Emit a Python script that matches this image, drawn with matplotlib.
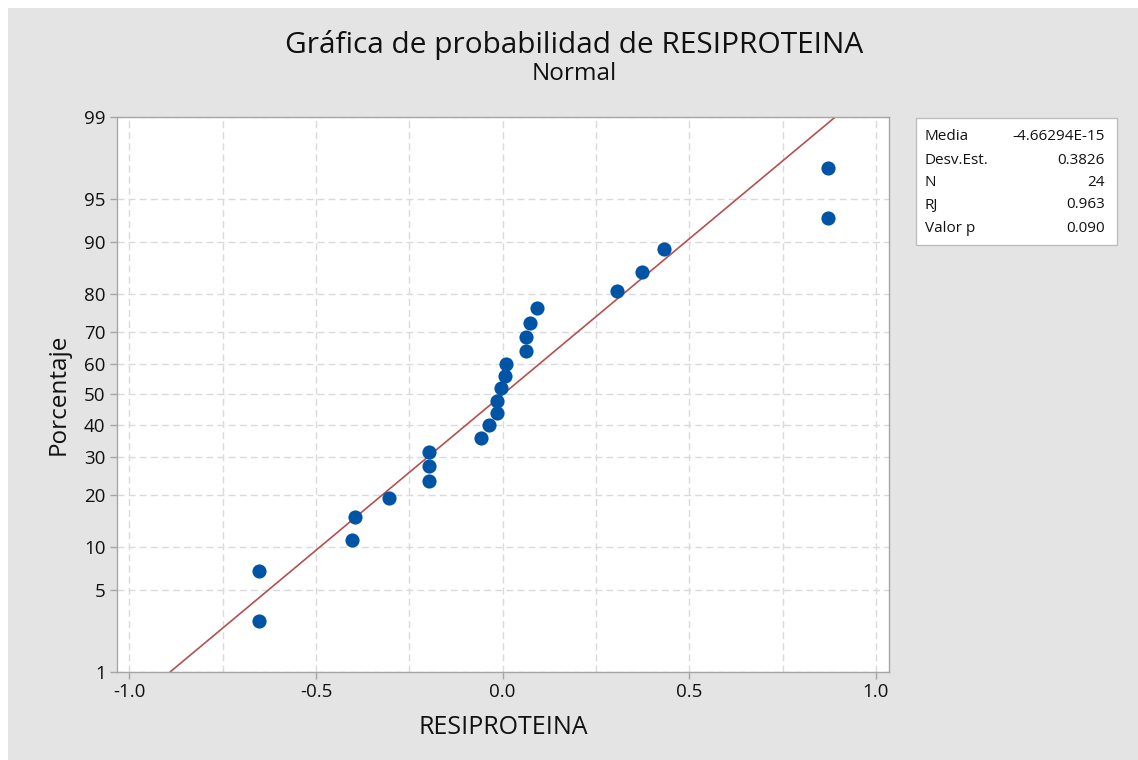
from statistics import NormalDist

import numpy as np
import matplotlib
matplotlib.use("Agg")
import matplotlib.pyplot as plt
from matplotlib.patches import Rectangle
from matplotlib.ticker import FixedLocator

plt.rcParams['font.family'] = ['Open Sans', 'DejaVu Sans']

# datos
resiproteina = [-0.654, -0.654, -0.404, -0.395, -0.304, -0.197, -0.197, -0.197,
                -0.058, -0.036, -0.015, -0.015, -0.005, 0.005, 0.008, 0.063,
                0.063, 0.073, 0.092, 0.307, 0.372, 0.433, 0.872, 0.872]
porcentaje = [2.87, 6.97, 11.07, 15.16, 19.26, 23.36, 27.46, 31.56,
              35.66, 39.75, 43.85, 47.95, 52.05, 56.15, 60.25, 64.34,
              68.44, 72.54, 76.64, 80.74, 84.84, 88.93, 93.03, 97.13]
media = -4.66294e-15
desv = 0.3826

stat_names = ['Media', 'Desv.Est.', 'N', 'RJ', 'Valor p']
stat_vals = ['-4.66294E-15', '0.3826', '24', '0.963', '0.090']

y_ticks = [1, 5, 10, 20, 30, 40, 50, 60, 70, 80, 90, 95, 99]
x_ticks = [-1.0, -0.5, 0.0, 0.5, 1.0]
x_minor = [-0.75, -0.25, 0.25, 0.75]

nd = NormalDist()
_ppf = np.vectorize(lambda p: nd.inv_cdf(min(max(p / 100.0, 1e-9), 1 - 1e-9)), otypes=[float])
_cdf = np.vectorize(lambda z: nd.cdf(z) * 100.0, otypes=[float])


def fwd(p):
    return _ppf(np.asarray(p, dtype=float))


def inv(z):
    return _cdf(np.asarray(z, dtype=float))


W, H = 1138, 760
txt = '#111111'
fig = plt.figure(figsize=(W / 100, H / 100), dpi=100, facecolor='white')
fig.patches.append(Rectangle((8 / W, 0), 1, 1 - 8 / H, transform=fig.transFigure,
                             facecolor='#e4e4e4', edgecolor='none', zorder=-10))

ax = fig.add_axes([116.7 / W, 1 - 671.7 / H, (889 - 116.7) / W, (671.7 - 117.3) / H])
ax.set_facecolor('white')
ax.set_yscale('function', functions=(fwd, inv))
ax.set_ylim(1, 99)
ax.set_xlim(-1.034, 1.035)

gris = '#a6a6a6'
for s in ax.spines.values():
    s.set_color(gris)
    s.set_linewidth(1.0)

ax.yaxis.set_major_locator(FixedLocator(y_ticks))
ax.set_yticklabels([str(t) for t in y_ticks])
ax.xaxis.set_major_locator(FixedLocator(x_ticks))
ax.xaxis.set_minor_locator(FixedLocator(x_minor))
ax.yaxis.set_minor_locator(FixedLocator([]))
ax.set_xticklabels(['-1.0', '-0.5', '0.0', '0.5', '1.0'])
ax.tick_params(axis='both', which='major', direction='out', length=5, width=1,
               color=gris, labelsize=13.5, labelcolor=txt, pad=3)
ax.tick_params(axis='x', which='minor', length=0)

ax.grid(True, which='both', axis='x', color='#dadada', linestyle=(0, (5, 3)), linewidth=1)
ax.grid(True, which='major', axis='y', color='#dadada', linestyle=(0, (5, 3)), linewidth=1)
ax.set_axisbelow(True)

# recta ajustada
p_lin = np.array([1.0, 99.0])
x_lin = media + desv * fwd(p_lin)
ax.plot(x_lin, p_lin, color='#b5504f', linewidth=1.2, zorder=2)

ax.plot(resiproteina, porcentaje, 'o', color='#0054a6', markersize=10.2,
        markeredgewidth=0, zorder=3)

ax.set_xlabel('RESIPROTEINA', fontsize=18, color=txt, labelpad=10)
ax.set_ylabel('Porcentaje', fontsize=17.5, color=txt, labelpad=10)

fig.text(0.5045, 1 - 45 / H, 'Gráfica de probabilidad de RESIPROTEINA',
         ha='center', va='center', fontsize=21.5, color=txt)
fig.text(0.5045, 1 - 74 / H, 'Normal', ha='center', va='center',
         fontsize=17.5, color=txt)

# cuadro de estadisticos
fig.patches.append(Rectangle((915.7 / W, 1 - 245 / H), (1116.7 - 915.7) / W,
                             (245 - 117.7) / H, transform=fig.transFigure,
                             facecolor='white', edgecolor='#bdbdbd', linewidth=1))
row_y = [136.7, 160, 182.7, 205, 228]
for name, val, yy in zip(stat_names, stat_vals, row_y):
    fig.text(925 / W, 1 - yy / H, name, ha='left', va='center', fontsize=11, color=txt)
    fig.text(1105 / W, 1 - yy / H, val, ha='right', va='center', fontsize=11, color=txt)

fig.savefig('out.png', dpi=100, facecolor=fig.get_facecolor())
